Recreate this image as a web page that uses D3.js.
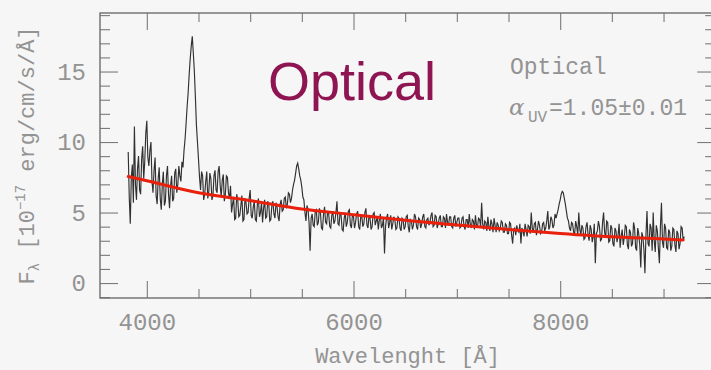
<!DOCTYPE html>
<html>
<head>
<meta charset="utf-8">
<script src="https://cdn.jsdelivr.net/npm/d3@7"></script>
<style>
  html, body { margin: 0; padding: 0; background: #f6f6f6; }
  svg { display: block; }
  .ax text { font-family: "Liberation Mono", "DejaVu Sans Mono", monospace; fill: #939393; }
  .ax line { stroke: #7a7a7a; stroke-width: 1.1; }
</style>
</head>
<body>
<svg id="chart" width="711" height="370"></svg>
<script>
// Observed-frame spectrum, sampled every 10 Å from 3820 Å
const wavelengthStart = 3820;
const wavelengthStep = 10;
const flux = [
  9.3, 6.1, 4.2, 7.5, 8.4, 5.7, 11.1, 7.0, 5.9, 8.1, 9.0, 6.6, 6.3, 8.8, 9.7, 7.4, 8.6, 10.6, 11.5, 8.9,
  8.3, 9.4, 10.0, 7.2, 6.4, 8.0, 8.9, 6.2, 5.6, 7.4, 8.2, 6.0, 5.2, 7.0, 7.9, 5.5, 5.8, 7.6, 8.3, 6.3,
  5.3, 6.9, 7.6, 5.8, 6.0, 7.8, 8.1, 6.4, 7.0, 8.3, 7.6, 7.2, 8.6, 8.2, 9.4, 10.2, 11.3, 12.5, 13.5, 14.8,
  15.9, 16.8, 17.5, 16.3, 15.0, 13.2, 11.2, 10.0, 8.8, 7.5, 6.6, 7.9, 7.6, 5.9, 6.3, 7.2, 7.9, 6.0, 6.5, 7.8,
  7.4, 5.9, 6.2, 7.6, 8.0, 6.6, 6.4, 7.9, 8.3, 6.9, 6.1, 7.3, 7.7, 5.8, 6.3, 7.6, 7.5, 6.4, 6.0, 6.9,
  5.0, 5.6, 6.1, 4.5, 4.6, 6.3, 5.9, 4.7, 4.8, 5.5, 6.2, 4.4, 4.5, 6.0, 5.7, 4.9, 5.0, 6.0, 6.6, 4.8,
  4.6, 5.4, 5.8, 4.5, 4.4, 5.6, 6.0, 4.7, 5.0, 5.7, 4.3, 5.3, 5.9, 4.6, 4.7, 5.8, 5.6, 4.4, 4.5, 5.5,
  5.8, 4.9, 4.6, 5.7, 5.4, 4.7, 4.4, 5.6, 5.9, 5.1, 5.2, 6.0, 6.1, 5.3, 5.6, 6.4, 6.3, 5.7, 6.0, 6.6,
  7.0, 7.3, 7.8, 8.3, 8.5, 8.1, 7.6, 7.3, 6.8, 6.1, 5.9, 5.0, 4.4, 5.5, 5.2, 4.3, 2.3, 4.6, 4.9, 4.1,
  4.0, 5.1, 5.2, 4.1, 4.3, 5.3, 5.0, 3.9, 3.8, 4.9, 5.4, 4.3, 4.2, 5.1, 4.9, 4.0, 3.9, 4.8, 5.1, 4.2,
  4.4, 5.0, 5.8, 4.2, 4.1, 5.0, 4.8, 3.8, 3.7, 4.6, 5.0, 4.0, 4.3, 5.1, 5.2, 4.1, 3.9, 4.9, 4.7, 3.9,
  4.3, 4.9, 5.1, 4.0, 3.8, 4.7, 4.8, 4.0, 4.2, 5.0, 5.3, 4.1, 3.9, 4.8, 4.6, 3.8, 4.0, 4.9, 5.0, 4.1,
  4.4, 4.7, 3.8, 4.5, 4.9, 3.9, 4.1, 4.6, 2.1, 4.0, 4.6, 4.9, 3.9, 4.3, 4.8, 3.8, 4.2, 4.7, 4.5, 3.8,
  3.9, 4.7, 4.6, 3.9, 3.7, 4.6, 4.5, 3.8, 4.0, 4.7, 4.8, 4.0, 3.6, 4.5, 4.4, 3.8, 4.1, 4.9, 4.7, 4.0,
  3.8, 4.6, 4.5, 3.9, 4.2, 4.7, 4.9, 4.0, 3.9, 4.5, 4.6, 4.1, 4.3, 4.8, 5.0, 4.0, 4.1, 4.8, 4.7, 3.9,
  4.2, 4.6, 4.8, 4.0, 4.0, 4.7, 4.6, 3.9, 4.9, 4.3, 4.1, 4.7, 4.7, 4.0, 3.9, 4.6, 4.8, 4.0, 4.3, 4.6,
  4.6, 3.9, 4.0, 4.6, 4.7, 4.0, 3.8, 4.5, 4.5, 3.9, 4.9, 4.2, 3.9, 4.5, 4.4, 3.8, 4.8, 4.1, 4.0, 4.6,
  4.5, 4.0, 5.7, 4.2, 3.8, 4.4, 4.3, 3.7, 4.7, 4.0, 3.7, 4.5, 4.2, 3.6, 4.6, 4.1, 3.6, 4.3, 4.1, 3.7,
  3.9, 4.4, 4.3, 3.6, 3.6, 4.2, 4.1, 3.5, 3.5, 4.3, 4.2, 3.4, 2.8, 3.8, 3.9, 3.4, 4.1, 3.7, 3.6, 4.2,
  2.8, 3.9, 3.7, 3.3, 4.2, 3.8, 3.3, 4.1, 4.0, 3.5, 5.0, 3.9, 3.6, 4.2, 4.3, 3.4, 3.8, 4.4, 4.1, 3.5,
  3.6, 4.2, 4.3, 3.7, 3.9, 4.4, 5.1, 3.8, 4.0, 4.7, 4.5, 3.9, 4.1, 4.9, 4.6, 4.9, 5.2, 5.6, 5.9, 6.3,
  6.5, 6.4, 6.0, 5.6, 5.1, 4.6, 4.4, 3.9, 3.7, 4.3, 4.2, 3.6, 3.5, 4.4, 4.0, 3.4, 5.0, 3.8, 3.4, 4.1,
  3.9, 3.1, 3.2, 4.0, 4.3, 3.4, 3.0, 4.1, 3.8, 2.9, 3.3, 4.2, 1.4, 3.5, 3.7, 4.4, 4.0, 3.0, 3.1, 4.3,
  5.0, 3.6, 3.2, 4.4, 4.3, 2.9, 3.0, 4.1, 3.9, 2.8, 2.6, 3.9, 3.7, 2.9, 3.4, 4.2, 2.5, 3.3, 3.8, 2.7,
  3.2, 4.1, 4.0, 2.7, 2.4, 3.8, 3.6, 2.6, 2.8, 4.3, 3.9, 2.5, 2.3, 3.9, 3.5, 2.7, 1.1, 3.6, 3.3, 2.4,
  0.7, 3.4, 5.1, 2.8, 2.6, 4.2, 3.9, 2.3, 5.0, 3.0, 2.2, 4.1, 3.7, 2.5, 1.4, 4.0, 5.7, 2.9, 2.5, 4.2,
  3.9, 2.5, 2.4, 3.8, 3.6, 2.3, 2.6, 3.9, 3.8, 2.7, 2.2, 3.7, 3.5, 2.4, 2.8, 4.0, 3.9, 3.0, 3.3
];

// Power-law continuum fit
const fitWavelength = [3820, 4000, 4500, 5000, 5500, 6000, 6500, 7000, 7500, 8000, 8500, 9000, 9190];
const fitFlux = [7.55, 7.25, 6.40, 5.85, 5.25, 4.85, 4.45, 4.12, 3.80, 3.52, 3.28, 3.12, 3.05];

// Axis ticks
const xMajorTicks = [4000, 6000, 8000];
const xMinorTicks = [4500, 5000, 5500, 6500, 7000, 7500, 8500, 9000];
const yMajorTicks = [0, 5, 10, 15];
const yMinorTicks = [-1, 1, 2, 3, 4, 6, 7, 8, 9, 11, 12, 13, 14, 16, 17, 18, 19];

const svg = d3.select("#chart");
const plotLeft = 100, plotRight = 715.2, plotTop = 13, plotBottom = 298;

const x = d3.scaleLinear().domain([3547, 9500]).range([plotLeft, plotRight]);
const y = d3.scaleLinear().domain([-1.06, 19.15]).range([plotBottom, plotTop]);

const spectrum = flux.map((f, i) => ({ w: wavelengthStart + i * wavelengthStep, f }));
const fit = fitWavelength.map((w, i) => ({ w, f: fitFlux[i] }));

svg.append("defs").append("clipPath").attr("id", "plotClip")
  .append("rect").attr("x", plotLeft).attr("y", plotTop)
  .attr("width", plotRight - plotLeft).attr("height", plotBottom - plotTop);

// Axes: ticks point inward on all four sides
function addAxis(axis, transform, labelled) {
  const g = svg.append("g").attr("class", "ax").attr("transform", transform).call(axis);
  g.select(".domain").remove();
  if (!labelled) g.selectAll("text").remove();
  return g;
}

addAxis(d3.axisBottom(x).tickValues(xMajorTicks).tickSize(-17).tickPadding(15)
  .tickFormat(d3.format("d")), `translate(0,${plotBottom})`, true)
  .selectAll("text").attr("font-size", 24);
addAxis(d3.axisBottom(x).tickValues(xMinorTicks).tickSize(-9), `translate(0,${plotBottom})`, false);
addAxis(d3.axisTop(x).tickValues(xMajorTicks).tickSize(-17), `translate(0,${plotTop})`, false);
addAxis(d3.axisTop(x).tickValues(xMinorTicks).tickSize(-9), `translate(0,${plotTop})`, false);

addAxis(d3.axisLeft(y).tickValues(yMajorTicks).tickSize(-18).tickPadding(14)
  .tickFormat(d3.format("d")), `translate(${plotLeft},0)`, true)
  .selectAll("text").attr("font-size", 24);
addAxis(d3.axisLeft(y).tickValues(yMinorTicks).tickSize(-10), `translate(${plotLeft},0)`, false);
addAxis(d3.axisRight(y).tickValues(yMajorTicks).tickSize(-18), `translate(${plotRight},0)`, false);
addAxis(d3.axisRight(y).tickValues(yMinorTicks).tickSize(-10), `translate(${plotRight},0)`, false);

// Frame
svg.append("rect")
  .attr("x", plotLeft).attr("y", plotTop)
  .attr("width", plotRight - plotLeft).attr("height", plotBottom - plotTop)
  .attr("fill", "none").attr("stroke", "#6e6e6e").attr("stroke-width", 1.4);

const plot = svg.append("g").attr("clip-path", "url(#plotClip)");

// Spectrum
plot.append("path")
  .datum(spectrum)
  .attr("fill", "none")
  .attr("stroke", "#151515")
  .attr("stroke-width", 1.15)
  .attr("stroke-opacity", 0.88)
  .attr("stroke-linejoin", "miter")
  .attr("d", d3.line().x(d => x(d.w)).y(d => y(d.f)));

// Continuum fit
plot.append("path")
  .datum(fit)
  .attr("fill", "none")
  .attr("stroke", "#e8200c")
  .attr("stroke-width", 3)
  .attr("stroke-linecap", "round")
  .attr("d", d3.line().curve(d3.curveMonotoneX).x(d => x(d.w)).y(d => y(d.f)));

const mono = "'Liberation Mono', 'DejaVu Sans Mono', monospace";
const grey = "#939393";

// Axis titles
svg.append("text")
  .attr("x", (plotLeft + plotRight) / 2).attr("y", 363)
  .attr("text-anchor", "middle")
  .attr("font-family", mono).attr("font-size", 22).attr("fill", grey)
  .text("Wavelenght [Å]");

const yTitle = svg.append("text")
  .attr("transform", `translate(34,${(plotTop + plotBottom) / 2}) rotate(-90)`)
  .attr("text-anchor", "middle")
  .attr("font-family", mono).attr("font-size", 22).attr("fill", grey);
yTitle.append("tspan").text("F");
yTitle.append("tspan").attr("font-size", 14).attr("dy", 5).text("λ");
yTitle.append("tspan").attr("dy", -5).text(" [10");
yTitle.append("tspan").attr("font-size", 14).attr("dy", -9).text("−17");
yTitle.append("tspan").attr("dy", 9).text(" erg/cm/s/Å]");

// Annotations
svg.append("text")
  .attr("x", 268).attr("y", 100)
  .attr("font-family", "'Liberation Sans', Arial, sans-serif")
  .attr("font-size", 54).attr("fill", "#8f1552")
  .text("Optical");

svg.append("text")
  .attr("x", 510).attr("y", 74)
  .attr("font-family", mono).attr("font-size", 23).attr("fill", grey)
  .text("Optical");

svg.append("text")
  .attr("x", 509).attr("y", 115)
  .attr("font-family", "'DejaVu Serif', serif").attr("font-style", "italic")
  .attr("font-size", 23).attr("fill", grey)
  .text("α");
svg.append("text")
  .attr("x", 528).attr("y", 122)
  .attr("font-family", mono).attr("font-size", 16).attr("fill", grey)
  .text("UV");
svg.append("text")
  .attr("x", 549).attr("y", 115)
  .attr("font-family", mono).attr("font-size", 23).attr("fill", grey)
  .text("=1.05±0.01");
</script>
</body>
</html>
